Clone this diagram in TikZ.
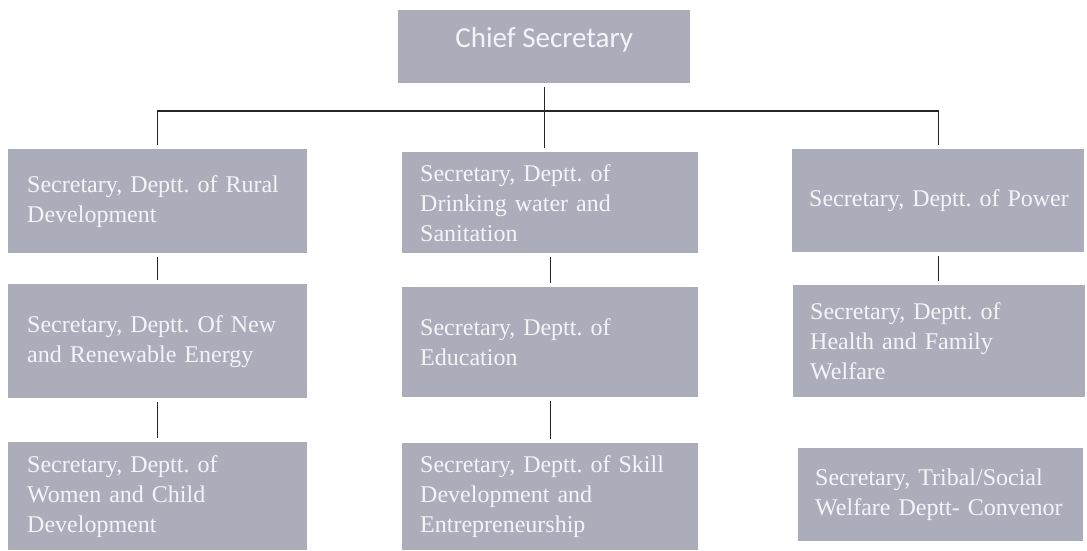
\documentclass[tikz,border=0pt]{standalone}
\usepackage{fontspec}
\setmainfont{Liberation Serif}
\newfontfamily\calibri{Carlito}
\usetikzlibrary{positioning}
\frenchspacing

\definecolor{boxgray}{RGB}{171,173,187}
\definecolor{boxtext}{RGB}{244,244,248}

\tikzset{
    post/.style={fill=boxgray, text=boxtext, anchor=north west, inner ysep=4pt,
        align=left, font=\fontsize{24}{30}\selectfont},
    col1/.style={minimum width=299pt, text width=261pt, inner xsep=19pt},
    col2/.style={minimum width=296pt, text width=260pt, inner xsep=18pt},
    col3/.style={minimum width=292pt, text width=258pt, inner xsep=17pt},
    link/.style={draw=black!85, line width=1.1pt, shorten <=4pt, shorten >=4pt}
}

\begin{document}
\begin{tikzpicture}[x=1pt,y=1pt]
    \useasboundingbox (0,0) rectangle (1087,-550);

    \node[fill=boxgray, text=boxtext, anchor=north west, minimum width=292pt,
        minimum height=73pt, text height=20pt, text depth=18pt,
        font=\calibri\fontsize{29}{34}\selectfont] (chief) at (398,-10) {Chief Secretary};

    \node[post, col1, minimum height=104pt] (rural) at (8,-149)
        {Secretary, Deptt. of Rural\\Development};
    \node[post, col1, minimum height=114pt] (energy) at (8,-284)
        {Secretary, Deptt. Of New\\and Renewable Energy};
    \node[post, col1, minimum height=108pt] (women) at (8,-442)
        {Secretary, Deptt. of\\Women and Child\\Development};

    \node[post, col2, minimum height=101pt] (drink) at (402,-152)
        {Secretary, Deptt. of\\Drinking water and\\Sanitation};
    \node[post, col2, minimum height=110pt] (edu) at (402,-287)
        {Secretary, Deptt. of\\Education};
    \node[post, col2, minimum height=107pt] (skill) at (402,-443)
        {Secretary, Deptt. of Skill\\Development and\\Entrepreneurship};

    \node[post, col3, minimum height=103pt] (power) at (792,-149)
        {\mbox{Secretary, Deptt. of Power}};
    \node[post, col3, minimum height=112pt] (health) at (793,-285)
        {Secretary, Deptt. of\\Health and Family\\Welfare};
    \node[post, col3, minimum width=285pt, text width=251pt, minimum height=93pt] (tribal) at (798,-448)
        {Secretary, Tribal/Social\\Welfare Deptt- Convenor};

    \coordinate (bus) at (542,-111);
    \draw[link] (chief.south) -- (chief.south |- drink.north);
    \draw[link] (rural.north) |- (bus) -| (power.north);
    \foreach \a/\b in {rural/energy, energy/women, drink/edu, edu/skill, power/health}{
        \draw[link] (\a.south) -- (\a.south |- \b.north);
    }
\end{tikzpicture}
\end{document}
